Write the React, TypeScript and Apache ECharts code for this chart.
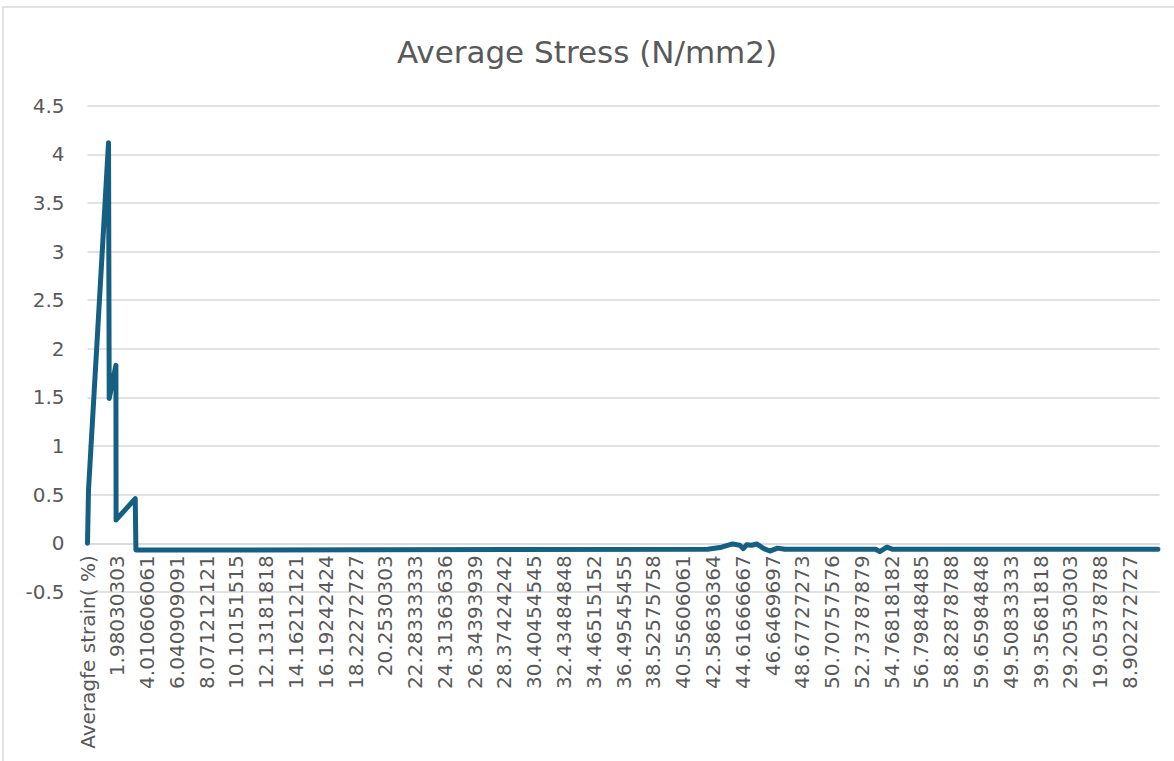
import React, { useEffect, useRef } from "react";
import * as echarts from "echarts";

// Category labels shown on the x axis (one every label interval)
const xLabels: string[] = [
  "Averagfe strain( %)", "1.98030303", "4.010606061", "6.040909091", "8.071212121",
  "10.10151515", "12.13181818", "14.16212121", "16.19242424", "18.22272727",
  "20.2530303", "22.28333333", "24.31363636", "26.34393939", "28.37424242",
  "30.40454545", "32.43484848", "34.46515152", "36.49545455", "38.52575758",
  "40.55606061", "42.58636364", "44.61666667", "46.6469697", "48.67727273",
  "50.70757576", "52.73787879", "54.76818182", "56.79848485", "58.82878788",
  "59.65984848", "49.50833333", "39.35681818", "29.20530303", "19.05378788",
  "8.902272727",
];

// Position of each point along the category axis, in label-interval units
const strainPos: number[] = [
  0, 0.034, 0.706, 0.729, 0.954, 0.96, 1.603, 1.626,
  20.82, 21.29, 21.66, 21.9, 22.02, 22.13, 22.3, 22.47, 22.71, 22.91, 23.17, 23.41,
  26.46, 26.6, 26.84, 27.04, 35.94,
];

// Average stress (N/mm2)
const stress: number[] = [
  0, 0.55, 4.12, 1.49, 1.83, 0.24, 0.46, -0.07,
  -0.062, -0.04, -0.007, -0.02, -0.055, -0.015, -0.02, -0.007, -0.055, -0.08, -0.05, -0.062,
  -0.062, -0.085, -0.04, -0.062, -0.062,
];

const FONT = "DejaVu Sans";
const TXT = "#595959";
const GRID = "#d9d9d9";

const GRID_TOP = 105.7;
const GRID_BOTTOM = 169.1;
const Y_MIN = -0.5;
const Y_MAX = 4.5;

export default function App() {
  const ref = useRef<HTMLDivElement>(null);
  useEffect(() => {
    if (!ref.current) return;
    const chart = echarts.init(ref.current, null, { renderer: "svg" });
    const data = strainPos.map((x, i) => [x, stress[i]]);
    const plotH = 761 - GRID_TOP - GRID_BOTTOM;
    // move the category axis up so it crosses the value axis at 0 (as in Excel)
    const zeroOffset = -((0 - Y_MIN) / (Y_MAX - Y_MIN)) * plotH;
    chart.setOption({
      animation: false,
      backgroundColor: "#ffffff",
      title: {
        text: "Average Stress (N/mm2)",
        left: "center",
        top: 31,
        textStyle: { fontFamily: FONT, fontSize: 31, fontWeight: "normal", color: TXT },
      },
      graphic: [
        {
          type: "rect",
          shape: { x: 3, y: 7, width: 1190, height: 780 },
          style: { fill: "none", stroke: GRID, lineWidth: 1.5 },
          silent: true,
        },
      ],
      grid: {
        left: 87.5,
        right: 14.3,
        top: GRID_TOP,
        bottom: GRID_BOTTOM,
        containLabel: false,
        outerBoundsMode: "none",
      },
      xAxis: {
        type: "value",
        min: 0,
        max: 36,
        interval: 1,
        offset: zeroOffset,
        axisLine: { show: true, onZero: false, lineStyle: { color: GRID, width: 1.5 } },
        axisTick: { show: false },
        splitLine: { show: false },
        axisLabel: {
          rotate: 90,
          margin: 12,
          fontFamily: FONT,
          fontSize: 20,
          color: TXT,
          formatter: (v: number) => xLabels[Math.round(v)] ?? "",
        },
      },
      yAxis: {
        type: "value",
        min: Y_MIN,
        max: Y_MAX,
        interval: 0.5,
        axisLine: { show: false },
        axisTick: { show: false },
        splitLine: { show: true, lineStyle: { color: GRID, width: 1.5 } },
        axisLabel: { margin: 23, fontFamily: FONT, fontSize: 20, color: TXT },
      },
      series: [
        {
          type: "line",
          data,
          showSymbol: false,
          lineStyle: { color: "#156082", width: 5, cap: "round", join: "round" },
        },
      ],
    });
    return () => chart.dispose();
  }, []);
  return (
    <div
      ref={ref}
      style={{ position: "absolute", left: 0, top: 0, width: 1174, height: 761 }}
    />
  );
}
